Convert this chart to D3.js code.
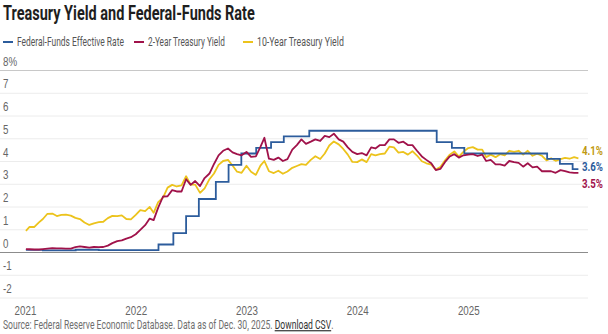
<!DOCTYPE html>
<html lang="en">
  <head>
    <meta charset="UTF-8" />
    <title>Treasury Yield and Federal-Funds Rate</title>
    <script src="https://d3js.org/d3.v7.min.js"></script>
    <style>
      body { margin: 0; background: #fff; }
      svg { display: block; font-family: "Roboto", "Liberation Sans", sans-serif; }
    </style>
  </head>
  <body>
    <svg width="608" height="334"></svg>
    <script>
      // Fed funds effective rate, as step changes
      const fedDates = ["2021-01-04", "2021-03-01", "2021-06-17", "2021-09-01", "2022-03-17", "2022-05-05",
        "2022-06-16", "2022-07-28", "2022-09-22", "2022-11-03", "2022-12-15", "2023-02-02", "2023-03-23",
        "2023-05-04", "2023-07-27", "2024-09-19", "2024-11-08", "2024-12-19", "2025-09-18", "2025-10-30",
        "2025-12-11", "2025-12-30"];
      const fedRates = [0.09, 0.07, 0.10, 0.08, 0.33, 0.83, 1.58, 2.33, 3.08, 3.83, 4.33, 4.58, 4.83,
        5.08, 5.33, 4.83, 4.58, 4.33, 4.09, 3.87, 3.64, 3.64];

      // yields, 1st and 16th of each month from Jan 2021, last point Dec 30 2025
      const twoYear = [
        0.13, 0.12, 0.11, 0.11, 0.13, 0.15, 0.17, 0.16, 0.16, 0.15, 0.15, 0.21, 0.25, 0.22, 0.19, 0.22, 0.21, 0.22, 0.28, 0.39, 0.48, 0.51, 0.59, 0.65,
        0.78, 0.97, 1.18, 1.47, 1.40, 1.95, 2.44, 2.45, 2.72, 2.66, 2.66, 3.20, 2.95, 3.12, 2.90, 3.25, 3.45, 3.87, 4.25, 4.45, 4.55, 4.38, 4.30, 4.25,
        4.40, 4.18, 4.20, 4.62, 5.02, 4.10, 4.05, 4.15, 4.00, 4.08, 4.50, 4.70, 4.95, 4.75, 4.85, 4.95, 4.88, 5.10, 5.05, 5.20, 4.95, 4.85, 4.60, 4.40,
        4.30, 4.35, 4.25, 4.60, 4.55, 4.70, 4.70, 4.95, 4.95, 4.80, 4.85, 4.70, 4.70, 4.45, 4.20, 4.05, 3.90, 3.60, 3.65, 3.95, 4.20, 4.30, 4.15, 4.25,
        4.28, 4.30, 4.22, 4.28, 4.00, 4.05, 3.85, 3.85, 3.80, 4.00, 3.95, 3.92, 3.75, 3.90, 3.72, 3.75, 3.55, 3.55, 3.55, 3.48, 3.60, 3.55, 3.50, 3.48,
        3.48
      ];
      const tenYear = [
        0.93, 1.10, 1.10, 1.30, 1.45, 1.68, 1.69, 1.58, 1.63, 1.64, 1.60, 1.50, 1.45, 1.30, 1.19, 1.26, 1.31, 1.33, 1.49, 1.59, 1.58, 1.61, 1.45, 1.43,
        1.63, 1.84, 1.80, 1.98, 1.72, 2.19, 2.39, 2.83, 2.95, 2.88, 2.93, 3.33, 2.96, 2.96, 2.60, 2.80, 3.20, 3.45, 3.83, 4.00, 4.05, 3.80, 3.53, 3.48,
        3.79, 3.53, 3.39, 3.80, 4.00, 3.55, 3.47, 3.57, 3.44, 3.54, 3.70, 3.78, 3.86, 3.83, 4.05, 4.21, 4.09, 4.33, 4.68, 4.86, 4.73, 4.53, 4.28, 3.96,
        3.95, 4.07, 3.95, 4.30, 4.25, 4.30, 4.33, 4.63, 4.60, 4.37, 4.40, 4.28, 4.43, 4.24, 3.99, 3.90, 3.84, 3.62, 3.74, 4.02, 4.28, 4.42, 4.19, 4.40,
        4.57, 4.61, 4.50, 4.50, 4.17, 4.28, 4.17, 4.30, 4.25, 4.45, 4.40, 4.45, 4.28, 4.45, 4.23, 4.32, 4.23, 4.03, 4.12, 4.01, 4.08, 4.14, 4.10, 4.17,
        4.12
      ];

      const yTicks = [-2, -1, 0, 1, 2, 3, 4, 5, 6, 7, 8];
      const yearTicks = ["2021", "2022", "2023", "2024", "2025"];

      const parse = d3.timeParse("%Y-%m-%d");

      // dates for the yield arrays
      let yieldDates = [];
      d3.timeMonth.range(parse("2021-01-01"), parse("2026-01-01")).forEach((m) => {
        yieldDates.push(m, d3.timeDay.offset(m, 15));
      });
      yieldDates[0] = parse("2021-01-04");
      yieldDates.push(parse("2025-12-30"));

      // squeeze text horizontally (the original uses a condensed face)
      function condense(sel, k) {
        sel.each(function () {
          let t = d3.select(this);
          let x0 = +t.attr("x") || 0;
          t.attr("transform", `scale(${k},1)`).attr("x", x0 / k);
        });
      }
      function widthOf(sel) {
        return sel.node().getComputedTextLength();
      }

      let svg = d3.select("svg");

      let x = d3.scaleTime().domain([parse("2021-01-01"), parse("2026-01-01")]).range([25, 579]);
      let y = d3.scaleLinear().domain([-2, 8]).range([297.5, 70]);

      // title
      let title = svg.append("text")
        .attr("x", 3).attr("y", 20)
        .attr("font-size", 20).attr("font-weight", "bold").attr("fill", "#1e1e1e")
        .text("Treasury Yield and Federal-Funds Rate");
      let kBold = 252 / widthOf(title);
      condense(title, kBold);

      // source (also gives the squeeze factor for regular text)
      let src = svg.append("text")
        .attr("x", 3).attr("y", 329)
        .attr("font-size", 12).attr("fill", "#6e6e6e");
      src.append("tspan").text("Source: Federal Reserve Economic Database. Data as of Dec. 30, 2025. ");
      src.append("tspan").attr("fill", "#333").attr("text-decoration", "underline").text("Download CSV");
      src.append("tspan").text(".");
      let kReg = 330 / widthOf(src);
      condense(src, kReg);

      // legend
      const legend = [
        { name: "Federal-Funds Effective Rate", color: "#2c5c9c", x: 3, w: 107 },
        { name: "2-Year Treasury Yield", color: "#a0124a", x: 134, w: 77 },
        { name: "10-Year Treasury Yield", color: "#ecc31c", x: 243, w: 87 },
      ];
      let lg = svg.append("g").attr("id", "legend");
      legend.forEach((l) => {
        lg.append("line")
          .attr("x1", l.x).attr("x2", l.x + 10)
          .attr("y1", 42).attr("y2", 42)
          .attr("stroke", l.color).attr("stroke-width", 2);
        let t = lg.append("text")
          .attr("x", l.x + 14).attr("y", 46.5)
          .attr("font-size", 13.5).attr("fill", "#555")
          .text(l.name);
        condense(t, l.w / widthOf(t));
      });

      // y grid and labels
      let yAxis = svg.append("g")
        .call(d3.axisRight(y).tickValues(yTicks).tickSize(588)
          .tickFormat((d) => (d === 8 ? "8%" : d)));
      yAxis.select(".domain").remove();
      yAxis.selectAll(".tick line")
        .attr("stroke", (d) => (d === 0 ? "#8c8c8c" : d === 8 ? "#c8c8c8" : "#ececec"))
        .attr("stroke-width", 1);
      yAxis.selectAll(".tick text")
        .attr("x", 3).attr("dy", -5).attr("text-anchor", "start")
        .attr("font-size", 13).attr("fill", "#666")
        .attr("font-family", null);
      condense(yAxis.selectAll(".tick text"), kReg * 1.05);

      // x axis (years)
      let xAxis = svg.append("g")
        .attr("transform", "translate(0,300)")
        .call(d3.axisBottom(x).tickValues(yearTicks.map((d) => parse(d + "-01-01")))
          .tickSize(0).tickFormat(d3.timeFormat("%Y")));
      xAxis.select(".domain").remove();
      xAxis.selectAll(".tick text")
        .attr("dy", 12).attr("font-size", 13).attr("fill", "#666")
        .attr("font-family", null);
      condense(xAxis.selectAll(".tick text"), kReg * 1.05);

      // lines
      let yieldLine = d3.line().x((d) => x(d[0])).y((d) => y(d[1]));
      let stepLine = d3.line().x((d) => x(d[0])).y((d) => y(d[1])).curve(d3.curveStepAfter);

      svg.append("path")
        .datum(yieldDates.map((d, i) => [d, tenYear[i]]))
        .attr("d", yieldLine)
        .attr("fill", "none").attr("stroke", "#ecc31c").attr("stroke-width", 1.8)
        .attr("stroke-linejoin", "round");
      svg.append("path")
        .datum(fedDates.map((d, i) => [parse(d), fedRates[i]]))
        .attr("d", stepLine)
        .attr("fill", "none").attr("stroke", "#2c5c9c").attr("stroke-width", 1.8);
      svg.append("path")
        .datum(yieldDates.map((d, i) => [d, twoYear[i]]))
        .attr("d", yieldLine)
        .attr("fill", "none").attr("stroke", "#a0124a").attr("stroke-width", 1.8)
        .attr("stroke-linejoin", "round");

      // end labels, spread apart so they don't overlap
      let ends = [
        { v: tenYear[tenYear.length - 1], color: "#bf9a12" },
        { v: fedRates[fedRates.length - 1], color: "#2c5c9c" },
        { v: twoYear[twoYear.length - 1], color: "#a0124a" },
      ];
      ends.sort((a, b) => y(a.v) - y(b.v));
      const gap = 16.5;
      let mid = d3.mean(ends, (d) => y(d.v));
      ends.forEach((d, i) => (d.ly = mid + (i - (ends.length - 1) / 2) * gap));
      let endLabels = svg.append("g").selectAll("text")
        .data(ends).enter().append("text")
        .attr("x", 582).attr("y", (d) => d.ly + 4.5)
        .attr("font-size", 12.5).attr("font-weight", "bold")
        .attr("fill", (d) => d.color)
        .text((d) => d.v.toFixed(1) + "%");
      condense(endLabels, 21 / widthOf(endLabels));
    </script>
  </body>
</html>
